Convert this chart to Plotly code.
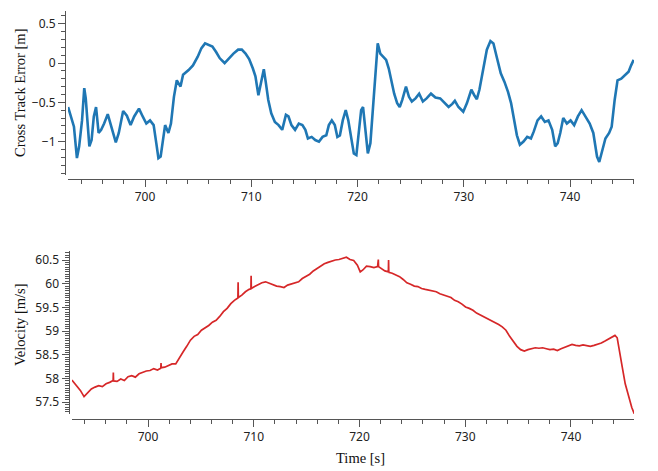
import plotly.graph_objects as go

# ---- Cross track error (top panel) ----
cte_time = [692.76, 693.04, 693.31, 693.59, 693.80, 694.07, 694.28, 694.42, 694.63, 694.76,
            694.97, 695.18, 695.39, 695.63, 695.87, 696.15, 696.49, 696.84, 697.25, 697.53,
            697.94, 698.29, 698.64, 698.98, 699.43, 699.78, 700.12, 700.47, 700.81, 701.06,
            701.26, 701.47, 701.68, 701.89, 702.20, 702.44, 702.72, 702.99, 703.34, 703.58,
            704.10, 704.51, 704.96, 705.31, 705.65, 706.00, 706.34, 706.69, 707.04, 707.49,
            707.90, 708.32, 708.76, 709.11, 709.46, 709.80, 710.15, 710.39, 710.67, 710.91,
            711.18, 711.36, 711.60, 711.88, 712.22, 712.57, 712.91, 713.26, 713.50, 713.78,
            714.12, 714.47, 714.81, 715.09, 715.33, 715.68, 716.02, 716.37, 716.71, 717.06,
            717.30, 717.58, 717.86, 718.10, 718.34, 718.61, 718.89, 719.13, 719.41, 719.65,
            719.89, 720.10, 720.34, 720.52, 720.76, 720.97, 721.21, 721.45, 721.66, 721.90,
            722.14, 722.42, 722.69, 722.94, 723.18, 723.45, 723.73, 723.97, 724.21, 724.56,
            724.84, 725.11, 725.46, 725.80, 726.15, 726.50, 726.91, 727.33, 727.78, 728.22,
            728.57, 728.92, 729.16, 729.50, 729.95, 730.30, 730.71, 730.99, 731.23, 731.47,
            731.82, 732.17, 732.51, 732.79, 733.13, 733.48, 733.83, 734.17, 734.45, 734.72,
            735.00, 735.28, 735.62, 735.97, 736.32, 736.59, 736.94, 737.28, 737.63, 737.97,
            738.32, 738.60, 738.84, 739.08, 739.36, 739.70, 740.05, 740.39, 740.74, 741.09,
            741.43, 741.85, 742.19, 742.54, 742.75, 742.99, 743.33, 743.68, 743.92, 744.20,
            744.47, 744.82, 745.16, 745.51, 745.75, 745.99]
cte_value = [-0.56, -0.68, -0.81, -1.21, -1.06, -0.73, -0.32, -0.45, -0.85, -1.06,
             -0.98, -0.68, -0.56, -0.89, -0.85, -0.77, -0.65, -0.81, -1.01, -0.89,
             -0.61, -0.67, -0.79, -0.68, -0.58, -0.68, -0.77, -0.73, -0.79, -1.02,
             -1.21, -1.19, -1.00, -0.79, -0.89, -0.77, -0.43, -0.22, -0.30, -0.15,
             -0.09, -0.03, 0.08, 0.19, 0.25, 0.23, 0.21, 0.14, 0.06, 0.00,
             0.06, 0.12, 0.17, 0.17, 0.12, 0.05, -0.07, -0.17, -0.41, -0.26,
             -0.08, -0.24, -0.47, -0.64, -0.75, -0.79, -0.85, -0.66, -0.68, -0.79,
             -0.85, -0.77, -0.79, -0.85, -0.96, -0.94, -0.98, -1.00, -0.94, -0.92,
             -0.79, -0.73, -0.79, -0.94, -0.92, -0.73, -0.60, -0.73, -0.98, -1.15,
             -1.17, -0.94, -0.60, -0.56, -0.85, -1.15, -1.02, -0.56, -0.09, 0.25,
             0.12, 0.08, 0.04, -0.07, -0.22, -0.39, -0.51, -0.56, -0.47, -0.30,
             -0.43, -0.49, -0.45, -0.39, -0.49, -0.45, -0.39, -0.44, -0.45, -0.51,
             -0.56, -0.52, -0.48, -0.56, -0.62, -0.51, -0.34, -0.41, -0.46, -0.34,
             -0.09, 0.17, 0.28, 0.25, 0.06, -0.13, -0.24, -0.37, -0.51, -0.73,
             -0.92, -1.04, -1.00, -0.94, -0.96, -0.87, -0.73, -0.68, -0.75, -0.73,
             -0.85, -1.06, -1.02, -0.89, -0.70, -0.77, -0.73, -0.79, -0.68, -0.60,
             -0.68, -0.77, -0.89, -1.19, -1.26, -1.13, -0.96, -0.89, -0.81, -0.47,
             -0.22, -0.20, -0.15, -0.11, -0.03, 0.04]

# ---- Velocity (bottom panel) ----
vel_time = [692.80, 693.25, 693.60, 693.95, 694.29, 694.64, 694.99, 695.33, 695.68, 696.03,
            696.37, 696.70, 696.72, 696.74, 697.07, 697.42, 697.76, 698.11, 698.46, 698.80,
            699.15, 699.50, 699.84, 700.19, 700.54, 700.89, 701.21, 701.23, 701.25, 701.58,
            701.93, 702.27, 702.62, 702.97, 703.31, 703.66, 704.01, 704.36, 704.70, 705.05,
            705.40, 705.74, 706.09, 706.44, 706.78, 707.13, 707.48, 707.83, 708.17, 708.50,
            708.52, 708.54, 708.87, 709.21, 709.56, 709.73, 709.75, 709.77, 710.08, 710.43,
            710.77, 711.12, 711.47, 711.82, 712.16, 712.51, 712.86, 713.20, 713.55, 713.90,
            714.24, 714.59, 714.94, 715.29, 715.63, 715.98, 716.33, 716.67, 717.02, 717.37,
            717.71, 718.06, 718.41, 718.76, 719.10, 719.45, 719.80, 720.07, 720.32, 720.66,
            721.01, 721.36, 721.71, 721.78, 721.80, 722.05, 722.40, 722.73, 722.75, 722.77,
            723.09, 723.44, 723.79, 724.13, 724.48, 724.83, 725.18, 725.52, 725.87, 726.22,
            726.56, 726.91, 727.26, 727.60, 727.95, 728.30, 728.65, 728.99, 729.34, 729.69,
            730.03, 730.38, 730.73, 731.07, 731.42, 731.77, 732.12, 732.46, 732.81, 733.16,
            733.50, 733.85, 734.20, 734.54, 734.89, 735.24, 735.59, 735.93, 736.28, 736.63,
            736.97, 737.32, 737.67, 738.01, 738.36, 738.71, 739.06, 739.40, 739.75, 740.10,
            740.44, 740.79, 741.14, 741.48, 741.83, 742.18, 742.53, 742.87, 743.22, 743.57,
            743.92, 744.16, 744.37, 744.61, 744.85, 745.13, 745.47, 745.75, 746.00]
vel_value = [57.97, 57.85, 57.75, 57.62, 57.71, 57.78, 57.82, 57.85, 57.83, 57.89,
             57.92, 57.96, 58.13, 57.95, 57.94, 57.99, 57.96, 58.04, 58.06, 58.03,
             58.10, 58.13, 58.16, 58.17, 58.21, 58.18, 58.22, 58.33, 58.23, 58.24,
             58.28, 58.31, 58.31, 58.45, 58.56, 58.68, 58.81, 58.89, 58.93, 59.02,
             59.07, 59.12, 59.19, 59.23, 59.31, 59.41, 59.48, 59.58, 59.65, 59.70,
             60.03, 59.71, 59.76, 59.83, 59.88, 59.89, 60.17, 59.90, 59.94, 59.99,
             60.02, 60.04, 60.01, 59.99, 59.95, 59.94, 59.92, 59.97, 59.99, 60.01,
             60.04, 60.11, 60.15, 60.20, 60.27, 60.32, 60.37, 60.42, 60.45, 60.48,
             60.50, 60.51, 60.54, 60.56, 60.51, 60.49, 60.39, 60.25, 60.29, 60.37,
             60.36, 60.34, 60.36, 60.51, 60.36, 60.32, 60.27, 60.25, 60.50, 60.24,
             60.22, 60.18, 60.15, 60.09, 60.02, 59.99, 59.95, 59.94, 59.90, 59.88,
             59.86, 59.85, 59.83, 59.79, 59.76, 59.74, 59.71, 59.65, 59.62, 59.57,
             59.51, 59.48, 59.44, 59.38, 59.34, 59.30, 59.26, 59.23, 59.19, 59.14,
             59.09, 59.02, 58.89, 58.79, 58.68, 58.61, 58.58, 58.61, 58.63, 58.65,
             58.64, 58.65, 58.63, 58.61, 58.62, 58.59, 58.63, 58.66, 58.70, 58.72,
             58.70, 58.69, 58.71, 58.69, 58.68, 58.70, 58.72, 58.75, 58.79, 58.84,
             58.89, 58.91, 58.86, 58.59, 58.24, 57.89, 57.60, 57.39, 57.25]

x_tick_major = 10
x_tick_minor = 2

# The page body adds an 8 px offset; lay out in window pixels accordingly.
OFF = 8
W, H = 658 - OFF, 471 - OFF
def fx(px):
    return (px - OFF) / W
def fy(py):
    return 1 - (py - OFF) / H

AXC = "#555555"
TICKFONT = dict(family="Noto Sans, Open Sans, sans-serif", size=12, color="#222222")
TITLEFONT = dict(family="Liberation Serif, Times New Roman, serif", size=14.5, color="#111111")

fig = go.Figure()
fig.add_trace(go.Scatter(x=cte_time, y=cte_value, mode="lines",
                         line=dict(color="#1f77b4", width=2.6), xaxis="x", yaxis="y",
                         showlegend=False, hoverinfo="skip"))
fig.add_trace(go.Scatter(x=vel_time, y=vel_value, mode="lines",
                         line=dict(color="#d62728", width=1.7), xaxis="x2", yaxis="y2",
                         showlegend=False, hoverinfo="skip"))

def xax(domain, pos, rng):
    return dict(domain=domain, anchor="free", position=pos, range=rng,
                showgrid=False, zeroline=False, showline=True, linecolor=AXC, linewidth=1,
                ticks="outside", ticklen=7, tickcolor=AXC, tickwidth=1,
                dtick=x_tick_major, tick0=700, tickfont=TICKFONT,
                minor=dict(dtick=x_tick_minor, tick0=700, ticks="outside", ticklen=4,
                           tickcolor=AXC, tickwidth=1, showgrid=False))

def yax(domain, pos, rng, dtick, mdtick, tick0):
    return dict(domain=domain, anchor="free", position=pos, range=rng,
                showgrid=False, zeroline=False, showline=True, linecolor=AXC, linewidth=1,
                ticks="outside", ticklen=7, tickcolor=AXC, tickwidth=1,
                dtick=dtick, tick0=tick0, tickfont=TICKFONT,
                minor=dict(dtick=mdtick, tick0=tick0, ticks="outside", ticklen=4,
                           tickcolor=AXC, tickwidth=1, showgrid=False))

fig.update_layout(
    width=W, height=H,
    margin=dict(l=0, r=0, t=0, b=0),
    paper_bgcolor="white", plot_bgcolor="white",
    xaxis=xax([fx(68), fx(634)], fy(179), [692.75, 746.02]),
    yaxis=yax([fy(175), fy(11)], fx(65), [-1.425, 0.662], 0.5, 0.1, 0),
    xaxis2=xax([fx(72), fx(634)], fy(418.5), [692.81, 745.96]),
    yaxis2=yax([fy(414), fy(251)], fx(68.5), [57.253, 60.69], 0.5, 0.05, 57.5),
    annotations=[
        dict(text="Cross Track Error [m]", x=fx(20), y=fy(93), xref="paper", yref="paper",
             showarrow=False, textangle=-90, font=TITLEFONT, xanchor="center", yanchor="middle"),
        dict(text="Velocity [m/s]", x=fx(20), y=fy(325), xref="paper", yref="paper",
             showarrow=False, textangle=-90, font=TITLEFONT, xanchor="center", yanchor="middle"),
        dict(text="Time [s]", x=fx(360), y=fy(458), xref="paper", yref="paper",
             showarrow=False, font=TITLEFONT, xanchor="center", yanchor="middle"),
    ],
)

fig.write_html("out.html")
